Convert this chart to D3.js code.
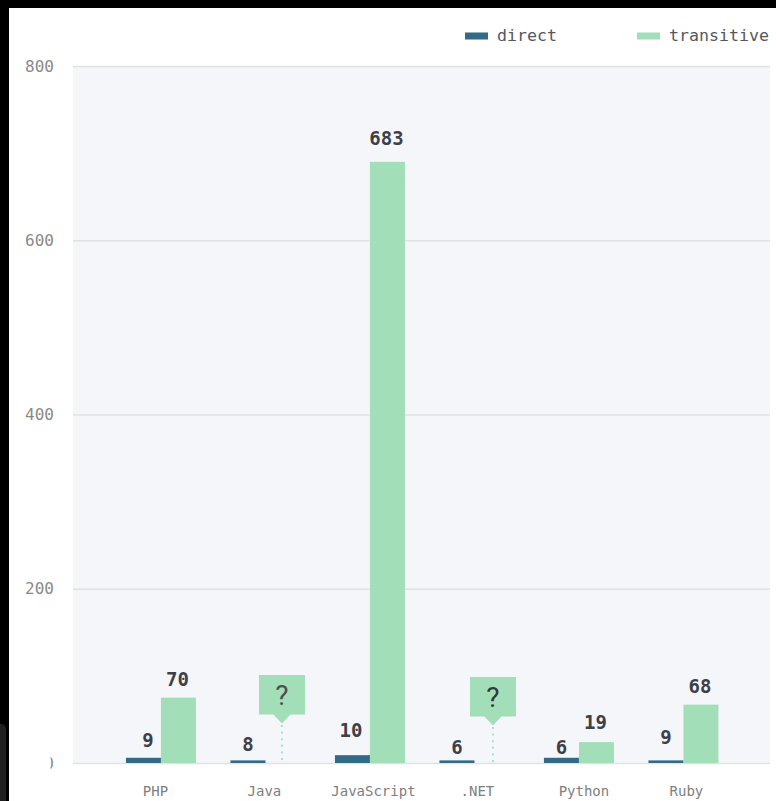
<!DOCTYPE html>
<html>
<head>
<meta charset="utf-8">
<style>
  html, body { margin: 0; padding: 0; background: #000; }
  svg { display: block; }
  text { font-family: "DejaVu Sans Mono", monospace; }
</style>
<script src="https://cdn.jsdelivr.net/npm/d3@7"></script>
</head>
<body>
<div id="chart"></div>
<script>
/* values */
const categories = ['PHP', 'Java', 'JavaScript', '.NET', 'Python', 'Ruby'];
const seriesNames = ['direct', 'transitive'];
// bar heights as drawn, they do not quite agree with the printed labels
const directValues = [6, 3, 9, 3, 6, 3];
const transitiveValues = [75, null, 690, null, 24, 67];
const directLabels = ['9', '8', '10', '6', '6', '9'];
const transitiveLabels = ['70', '?', '683', '?', '19', '68'];
const yTicks = [0, 200, 400, 600, 800];

const W = 776, H = 801;
const COLORS = { direct: '#336b87', transitive: '#a2dfb8' };

const svg = d3.select('#chart').append('svg')
  .attr('width', W).attr('height', H)
  .attr('viewBox', `0 0 ${W} ${H}`);

/* page sits inside a black frame */
svg.append('rect').attr('width', W).attr('height', H).attr('fill', '#000');
svg.append('rect')
  .attr('x', 9).attr('y', 8)
  .attr('width', W - 9).attr('height', H - 8)
  .attr('fill', '#fff');

const y = d3.scaleLinear().domain([0, 800]).range([763, 66]);
const x0 = d3.scaleBand().domain(categories).range([108.7, 735.7]);
const x1 = d3.scaleBand().domain(seriesNames).range([0, 70]);
const groupX = c => x0(c) + (x0.bandwidth() - 70) / 2;

/* plot background */
svg.append('rect')
  .attr('x', 73).attr('y', y(800))
  .attr('width', 697).attr('height', y(0) - y(800))
  .attr('fill', '#f4f6fa');

/* grid + y axis */
const yAxis = d3.axisLeft(y).tickValues(yTicks).tickSize(-697).tickPadding(19);
const yG = svg.append('g')
  .attr('transform', 'translate(73,0)')
  .call(yAxis);
yG.select('.domain').remove();
yG.selectAll('.tick line').attr('stroke', '#e0e2e6').attr('stroke-width', 1.5);
yG.selectAll('.tick text')
  .attr('fill', '#8a8a8a')
  .attr('font-size', 16)
  .style('font-family', '"DejaVu Sans Mono", monospace');

/* the 0 label is cut off in the screenshot, only a sliver of it shows */
svg.append('rect')
  .attr('x', 9).attr('y', 724)
  .attr('width', 41.5).attr('height', 77)
  .attr('fill', '#fff');
svg.append('rect')
  .attr('x', -10).attr('y', 724)
  .attr('width', 16).attr('height', 90).attr('rx', 5)
  .attr('fill', '#202020');

/* category labels, each nudged as in the original */
const labelNudge = [-5.5, -1, 3.5, 3, 5, 3];
svg.append('g').selectAll('text')
  .data(categories)
  .join('text')
  .attr('x', (d, i) => groupX(d) + 35 + labelNudge[i])
  .attr('y', 796)
  .attr('text-anchor', 'middle')
  .attr('font-size', 14)
  .attr('fill', '#808080')
  .text(d => d);

/* bars */
svg.append('g').selectAll('rect')
  .data(categories)
  .join('rect')
  .attr('x', d => groupX(d) + x1('direct'))
  .attr('width', x1.bandwidth())
  .attr('y', (d, i) => y(directValues[i]))
  .attr('height', (d, i) => y(0) - y(directValues[i]))
  .attr('fill', COLORS.direct);

const known = categories.filter((d, i) => transitiveValues[i] !== null);
svg.append('g').selectAll('rect')
  .data(known)
  .join('rect')
  .attr('x', d => groupX(d) + x1('transitive'))
  .attr('width', x1.bandwidth())
  .attr('y', d => y(transitiveValues[categories.indexOf(d)]))
  .attr('height', d => y(0) - y(transitiveValues[categories.indexOf(d)]))
  .attr('fill', COLORS.transitive);

/* value labels: the gaps above the bars are uneven in the original */
const labelStyle = sel => sel
  .attr('text-anchor', 'middle')
  .attr('font-size', 19)
  .attr('font-weight', 700)
  .attr('fill', '#3d4048');

const directDx = [4.5, 0, -1.5, 0, 0, 0];
const directGap = [11, 9.4, 18, 6.4, 3.8, 16.4];
svg.append('g').selectAll('text')
  .data(categories)
  .join('text')
  .call(labelStyle)
  .attr('x', (d, i) => groupX(d) + x1('direct') + x1.bandwidth() / 2 + directDx[i])
  .attr('y', (d, i) => y(directValues[i]) - directGap[i])
  .text((d, i) => directLabels[i]);

const transitiveGap = [12, null, 17, null, 13, 12];
svg.append('g').selectAll('text')
  .data(known)
  .join('text')
  .call(labelStyle)
  .attr('x', d => groupX(d) + x1('transitive') + x1.bandwidth() / 2 - 1)
  .attr('y', d => y(transitiveValues[categories.indexOf(d)]) - transitiveGap[categories.indexOf(d)])
  .text(d => transitiveLabels[categories.indexOf(d)]);

/* "?" callouts where transitive is unknown */
const unknown = categories.filter((d, i) => transitiveValues[i] === null);
const calloutPos = { 'Java': [16.5, 675], '.NET': [18.5, 677] };
const callout = svg.append('g').selectAll('g')
  .data(unknown)
  .join('g')
  .attr('transform', d => `translate(${groupX(d) + x1('transitive') + calloutPos[d][0]},${calloutPos[d][1]})`);

callout.append('line')
  .attr('y1', 50)
  .attr('y2', d => y(0) + (d === '.NET' ? 2 : 0) - calloutPos[d][1])
  .attr('stroke', '#a8e0d0')
  .attr('stroke-width', 2)
  .attr('stroke-dasharray', '2 4.6');
callout.append('path')
  .attr('d', 'M-23,0H23V39.5H8.5L0,48.5L-8.5,39.5H-23Z')
  .attr('fill', COLORS.transitive);
callout.append('text')
  .attr('y', 30)
  .attr('text-anchor', 'middle')
  .attr('font-size', 28)
  .style('font-family', 'Roboto, sans-serif')
  .attr('fill', d => d === '.NET' ? '#33383c' : '#4a5052')
  .text('?');

/* legend */
const legend = svg.append('g').selectAll('g')
  .data(seriesNames)
  .join('g')
  .attr('transform', d => `translate(${d === 'direct' ? 465 : 637},36)`);
legend.append('rect')
  .attr('y', -3.5).attr('width', 23).attr('height', 7)
  .attr('fill', d => COLORS[d]);
legend.append('text')
  .attr('x', 32).attr('y', 5)
  .attr('font-size', 16.6)
  .attr('fill', '#55585e')
  .text(d => d);
</script>
</body>
</html>
